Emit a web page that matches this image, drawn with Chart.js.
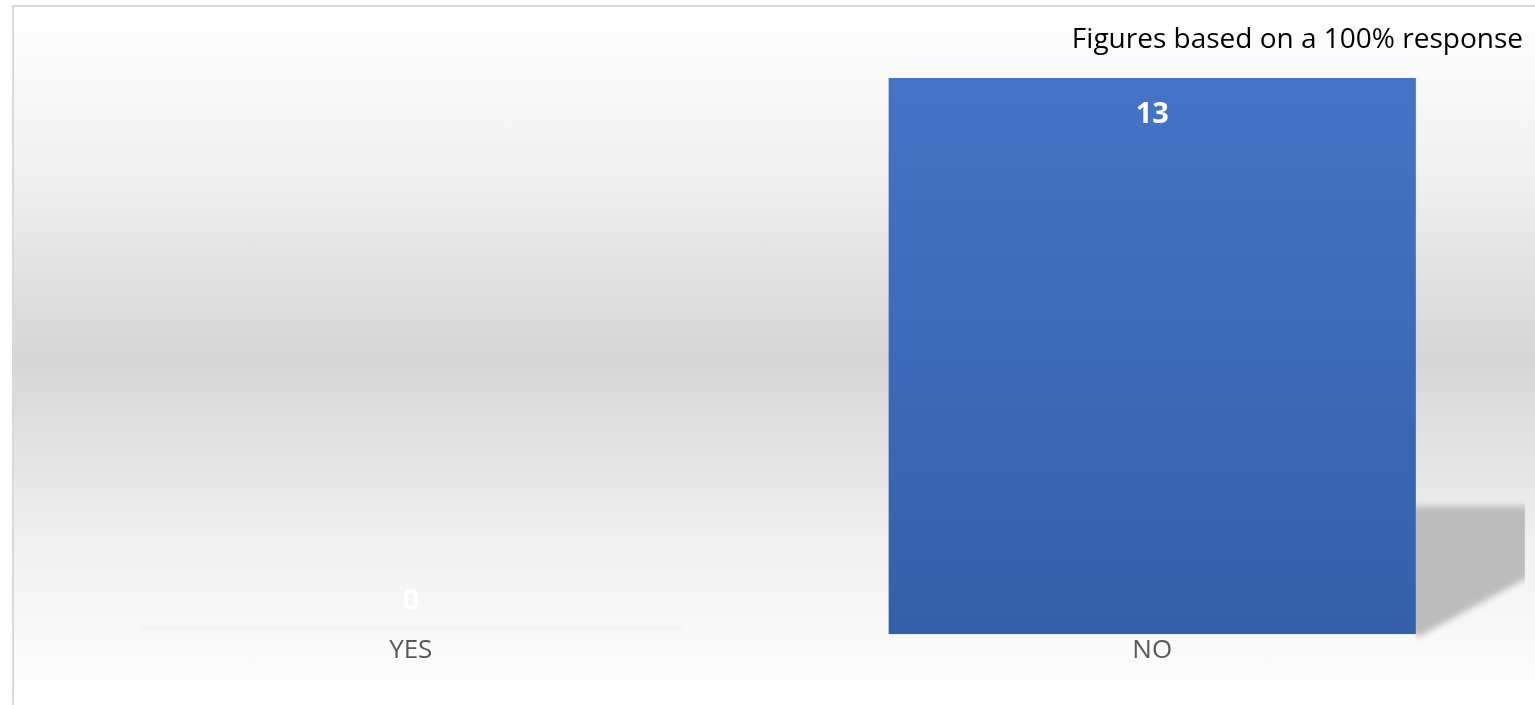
<!DOCTYPE html>
<html>
<head>
<meta charset="utf-8">
<script src="https://cdn.jsdelivr.net/npm/chart.js@4/dist/chart.umd.min.js"></script>
<style>
  html, body { margin: 0; padding: 0; background: #ffffff; overflow: hidden; }
  #bg {
    position: absolute; left: 12px; top: 5px; width: 1540px; height: 702px;
    border-left: 2px solid #d9d9d9; border-top: 2px solid #d9d9d9;
    background: linear-gradient(to bottom, #ffffff 0%, #f2f2f2 22%, #d6d6d6 50%, #f2f2f2 78%, #ffffff 100%);
  }
  #wrap { position: absolute; left: 0; top: 0; width: 1535px; height: 705px; }
</style>
</head>
<body>
<div id="bg"></div>
<div id="wrap"><canvas id="c"></canvas></div>
<script>
const categories = ["YES", "NO"];
const responses = [0, 13];
const titleText = "Figures based on a 100% response";

const FONT = "'Open Sans', 'Noto Sans', sans-serif";

const barShadow = {
  id: 'barShadow',
  beforeDatasetsDraw(chart) {
    const ctx = chart.ctx;
    const meta = chart.getDatasetMeta(0);
    meta.data.forEach((bar, i) => {
      const p = bar.getProps(['x', 'y', 'base', 'width'], true);
      const right = p.x + p.width / 2;
      const left = p.x - p.width / 2;
      const h = p.base - p.y;
      ctx.save();
      if (responses[i] > 0) {
        ctx.beginPath();
        ctx.rect(right, 0, 109, chart.height);
        ctx.clip();
        ctx.filter = 'blur(3px)';
        ctx.fillStyle = '#bcbcbc';
        ctx.beginPath();
        ctx.moveTo(right - 5, p.base);
        ctx.lineTo(right - 5, p.base - 0.23 * h);
        ctx.lineTo(right + 130, p.base - 0.23 * h);
        ctx.lineTo(right + 130, p.base - 0.12 * h);
        ctx.lineTo(right + 4, p.base + 2);
        ctx.closePath();
        ctx.fill();
      } else {
        ctx.filter = 'blur(2px)';
        ctx.fillStyle = 'rgba(0,0,0,0.03)';
        ctx.fillRect(left - 8, p.base - 7, p.width + 16, 4);
      }
      ctx.restore();
    });
  }
};

const valueLabels = {
  id: 'valueLabels',
  afterDatasetsDraw(chart) {
    const ctx = chart.ctx;
    const meta = chart.getDatasetMeta(0);
    ctx.save();
    ctx.fillStyle = '#ffffff';
    ctx.font = "bold 29px " + FONT;
    ctx.textAlign = 'center';
    ctx.textBaseline = 'middle';
    meta.data.forEach((bar, i) => {
      const p = bar.getProps(['x', 'y', 'base'], true);
      const v = responses[i];
      const y = v > 0 ? p.y + 37 : p.base - 32;
      ctx.fillText(String(v), p.x, y);
    });
    ctx.restore();
  }
};

new Chart(document.getElementById('c'), {
  type: 'bar',
  data: {
    labels: categories,
    datasets: [{
      data: responses,
      backgroundColor(context) {
        const area = context.chart.chartArea;
        if (!area) return '#4472c4';
        const g = context.chart.ctx.createLinearGradient(0, area.top, 0, area.bottom);
        g.addColorStop(0, '#4574c7');
        g.addColorStop(1, '#345fa9');
        return g;
      },
      borderWidth: 0,
      barPercentage: 0.711,
      categoryPercentage: 1.0
    }]
  },
  options: {
    responsive: true,
    maintainAspectRatio: false,
    animation: false,
    layout: { padding: { left: 40, right: 12, top: 14, bottom: 37.6 } },
    plugins: {
      legend: { display: false },
      tooltip: { enabled: false },
      title: {
        display: true,
        text: titleText,
        align: 'end',
        color: '#000000',
        font: { family: FONT, size: 28, weight: 'normal', lineHeight: 1.2 },
        padding: { top: 9.2, bottom: 21.2 }
      }
    },
    scales: {
      x: {
        grid: { display: false, drawTicks: false },
        border: { display: false },
        ticks: {
          color: '#595959',
          font: { family: FONT, size: 26, lineHeight: 1.2 },
          padding: 1
        }
      },
      y: {
        display: false,
        min: 0,
        max: 13
      }
    }
  },
  plugins: [barShadow, valueLabels]
});
</script>
</body>
</html>
